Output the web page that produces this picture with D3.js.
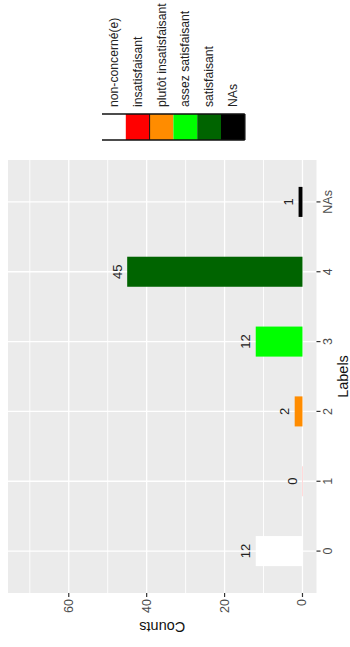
<!DOCTYPE html>
<html><head><meta charset="utf-8">
<script src="https://cdn.jsdelivr.net/npm/d3@7"></script>
<style>body{margin:0;background:#fff}svg{display:block}text{font-family:"Liberation Sans",Arial,sans-serif}</style>
</head><body>
<svg id="c" width="350" height="647"></svg>
<script>
const categories = ["0","1","2","3","4","NAs"];
const counts = [12, 0, 2, 12, 45, 1];
const colors = ["#FFFFFF","#FF0000","#FF8C00","#00FF00","#006400","#000000"];
const legendLabels = ["non-concerné(e)","insatisfaisant","plutôt insatisfaisant","assez satisfaisant","satisfaisant","NAs"];
const countTicks = [0,20,40,60];
const countMinor = [10,30,50,70];
const countLimit = 72;

const svg = d3.select("#c");
const panel = {left:8, right:316.5, top:160, bottom:593};
const pad = countLimit*0.05;
const x = d3.scaleLinear().domain([-pad, countLimit+pad]).range([panel.right, panel.left]);
const y = d3.scalePoint().domain(categories).range([panel.bottom, panel.top]).padding(0.6);
const bw = y.step()*0.43;

svg.append("rect").attr("x",panel.left).attr("y",panel.top)
  .attr("width",panel.right-panel.left).attr("height",panel.bottom-panel.top).attr("fill","#EBEBEB");
const g = svg.append("g");
g.selectAll(".mn").data(countMinor).join("line")
  .attr("x1",d=>x(d)).attr("x2",d=>x(d)).attr("y1",panel.top).attr("y2",panel.bottom)
  .attr("stroke","#fff").attr("stroke-width",0.9);
g.selectAll(".mj").data(countTicks).join("line")
  .attr("x1",d=>x(d)).attr("x2",d=>x(d)).attr("y1",panel.top).attr("y2",panel.bottom)
  .attr("stroke","#fff").attr("stroke-width",1.3);
g.selectAll(".cg").data(categories).join("line")
  .attr("y1",d=>y(d)).attr("y2",d=>y(d)).attr("x1",panel.left).attr("x2",panel.right)
  .attr("stroke","#fff").attr("stroke-width",1.3);

const data = categories.map((c,i)=>({c, v:counts[i], col:colors[i]}));
svg.selectAll(".bar").data(data).join("rect")
  .attr("x",d=> d.v>0 ? x(d.v) : x(0)-0.5)
  .attr("width",d=> d.v>0 ? x(0)-x(d.v) : 1)
  .attr("y",d=>y(d.c)-bw/2).attr("height",bw)
  .attr("fill",d=>d.col).attr("fill-opacity",d=>d.v>0?1:0.15);

svg.selectAll(".vl").data(data).join("text")
  .attr("transform",d=>`translate(${x(d.v)-10},${y(d.c)}) rotate(-90)`)
  .attr("text-anchor","middle").attr("dominant-baseline","central")
  .attr("font-size",13).attr("fill","#222").text(d=>d.v);

const ax = svg.append("g");
ax.selectAll("line").data(countTicks).join("line")
  .attr("x1",d=>x(d)).attr("x2",d=>x(d)).attr("y1",panel.bottom).attr("y2",panel.bottom+4)
  .attr("stroke","#333").attr("stroke-width",1.2);
ax.selectAll("text").data(countTicks).join("text")
  .attr("transform",d=>`translate(${x(d)},${panel.bottom+6}) rotate(-90)`)
  .attr("text-anchor","end").attr("dominant-baseline","central")
  .attr("font-size",12.5).attr("fill","#4D4D4D").text(d=>d);
svg.append("text").attr("transform",`translate(${(panel.left+panel.right)/2},627) rotate(180)`)
  .attr("text-anchor","middle").attr("dominant-baseline","central")
  .attr("font-size",14.5).attr("fill","#111").text("Counts");

const ay = svg.append("g");
ay.selectAll("line").data(categories).join("line")
  .attr("y1",d=>y(d)).attr("y2",d=>y(d)).attr("x1",panel.right).attr("x2",panel.right+4)
  .attr("stroke","#333").attr("stroke-width",1.2);
ay.selectAll("text").data(categories).join("text")
  .attr("transform",d=>`translate(${328},${y(d)}) rotate(-90)`)
  .attr("text-anchor","middle").attr("dominant-baseline","central")
  .attr("font-size",12.5).attr("fill","#4D4D4D").text(d=>d);
svg.append("text").attr("transform",`translate(343,${(panel.top+panel.bottom)/2}) rotate(-90)`)
  .attr("text-anchor","middle").attr("dominant-baseline","central")
  .attr("font-size",14.5).attr("fill","#111").text("Labels");

const lg = {x0:102, kw:23.8, y0:114, kh:26};
const L = svg.append("g");
L.selectAll("rect").data(colors).join("rect")
  .attr("x",(d,i)=>lg.x0+i*lg.kw).attr("y",lg.y0).attr("width",lg.kw).attr("height",lg.kh)
  .attr("fill",d=>d);
L.append("line").attr("x1",lg.x0).attr("x2",lg.x0+6*lg.kw).attr("y1",lg.y0).attr("y2",lg.y0).attr("stroke","#111").attr("stroke-width",1.5);
L.append("line").attr("x1",lg.x0).attr("x2",lg.x0+6*lg.kw).attr("y1",lg.y0+lg.kh).attr("y2",lg.y0+lg.kh).attr("stroke","#111").attr("stroke-width",1.5);
L.append("line").attr("x1",lg.x0+6*lg.kw).attr("x2",lg.x0+6*lg.kw).attr("y1",lg.y0).attr("y2",lg.y0+lg.kh).attr("stroke","#111").attr("stroke-width",1.5);
L.append("line").attr("x1",lg.x0+2*lg.kw).attr("x2",lg.x0+2*lg.kw).attr("y1",lg.y0).attr("y2",lg.y0+lg.kh).attr("stroke","#111").attr("stroke-width",1);
L.selectAll("text").data(legendLabels).join("text")
  .attr("transform",(d,i)=>`translate(${lg.x0+(i+0.5)*lg.kw},107) rotate(-90)`)
  .attr("text-anchor","start").attr("dominant-baseline","central")
  .attr("font-size",12.2).attr("fill","#222").text(d=>d);
</script>
</body></html>
